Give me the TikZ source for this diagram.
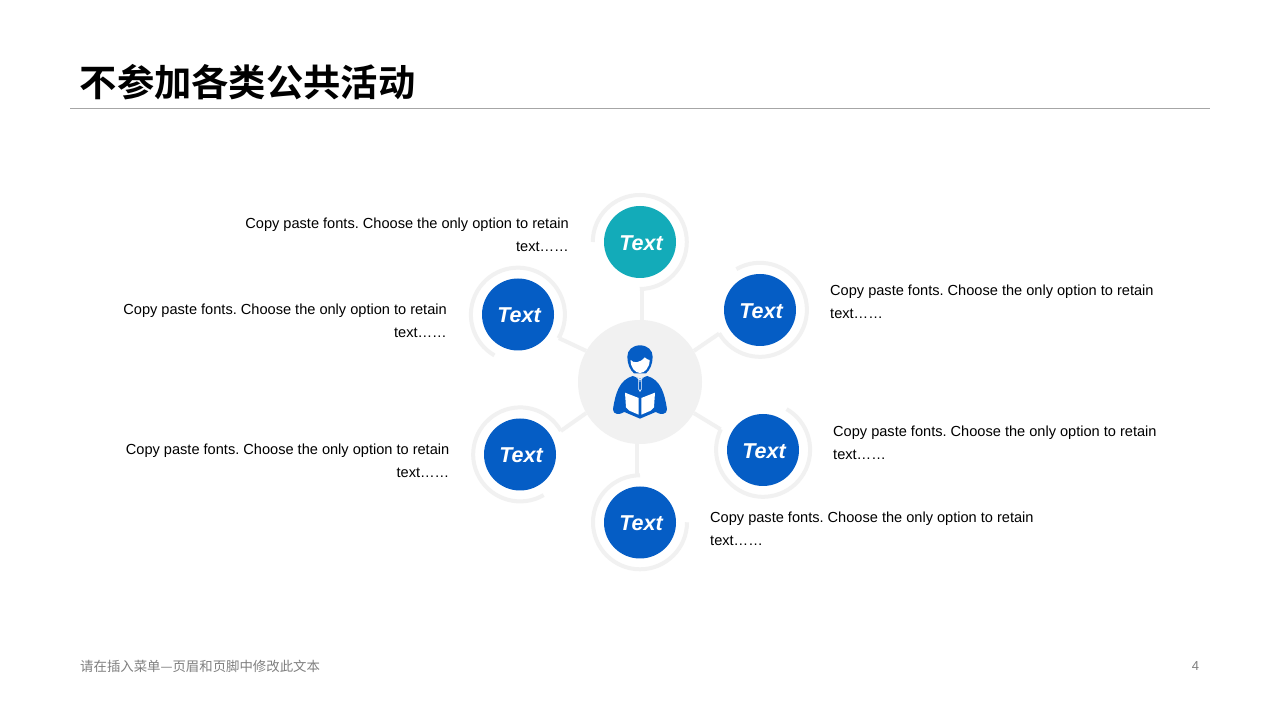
\documentclass[tikz,border=0pt]{standalone}
\usepackage{fontspec}
\setmainfont{Liberation Sans}
\newfontfamily\cjk{Noto Sans CJK SC}
\newfontfamily\cjkbold{Noto Sans CJK SC Bold}
\usetikzlibrary{positioning}
\definecolor{bluefill}{HTML}{055DC5}
\definecolor{tealfill}{HTML}{13ABB9}
\definecolor{ringgray}{HTML}{F1F1F1}
\definecolor{rulegray}{HTML}{A6A6A6}
\definecolor{footgray}{HTML}{7F7F7F}
\frenchspacing

\begin{document}
\begin{tikzpicture}[
          x=1pt, y=1pt,
          ball/.style={circle, minimum size=72pt, inner sep=0pt},
          balltext/.style={inner sep=0pt, text=white,
            font=\fontsize{21.5}{24}\selectfont\bfseries\itshape},
          halo/.style={circle, minimum size=94pt, inner sep=0pt},
          ring/.style={draw=ringgray, line width=4pt},
          link/.style={draw=ringgray, line width=4pt},
          note/.style={inner sep=0pt, font=\fontsize{14.58}{22.7}\selectfont}
        ]
        \useasboundingbox (0,0) rectangle (1280,720);
        \fill[white] (0,0) rectangle (1280,720);

        % title and footer
        \node[anchor=west, inner sep=0pt, font=\cjkbold\fontsize{37.3}{40}\selectfont] (title) at (79.5,638) {不参加各类公共活动};
        \coordinate (ruleleft) at (70,612);
        \coordinate (ruleright) at (1210,612);
        \draw[rulegray, line width=0.8pt] (ruleleft) -- (ruleright);
        \node[anchor=west, inner sep=0pt, text=footgray, font=\cjk\fontsize{13.4}{15}\selectfont] (footer) at (80,54) {请在插入菜单—页眉和页脚中修改此文本};
        \node[inner sep=0pt, text=footgray, font=\fontsize{13}{14}\selectfont] (pageno) at (1195.5,54) {4};

        % hub
        \node[circle, fill=ringgray, minimum size=124pt, inner sep=0pt] (hub) at (640,338) {};

        % balls and their rings
        \foreach \name/\x/\y/\col/\from/\to in {
            top/640/478/tealfill/180/-90,
            upleft/518/405.5/bluefill/240/-30,
            upright/760/410/bluefill/120/-150,
            lowleft/520/265.5/bluefill/30/300,
            lowright/763/270/bluefill/60/-206,
            bottom/640/197.5/bluefill/90/360}{
          \node[ball, fill=\col] (\name) at (\x,\y) {};
          \node[balltext] (label\name) at (\x+1,\y-1) {Text};
          \node[halo] (halo\name) at (\x,\y) {};
          \draw[ring] (halo\name.\from) arc[start angle=\from, end angle=\to, radius=47pt];
        }

        % connectors
        \draw[link] ([xshift=2pt]halotop.-90) -- ([xshift=2pt]hub.90);
        \draw[link] (haloupleft.-30) -- (hub.150);
        \draw[link] (haloupright.-150) -- (hub.30);
        \draw[link] (halolowleft.30) -- (hub.-150);
        \draw[link] (halolowright.154) -- (hub.-30);
        \draw[link] ([xshift=-3pt]hub.-90) -- ([xshift=-3pt]halobottom.90);

        % notes
        \node[note, anchor=east, align=right] (notetop) at (569,485) {Copy paste fonts. Choose the only option to retain\\text\dots\dots};
        \node[note, anchor=east, align=right] (noteupleft) at (447,399) {Copy paste fonts. Choose the only option to retain\\text\dots\dots};
        \node[note, anchor=east, align=right] (notelowleft) at (449.5,259) {Copy paste fonts. Choose the only option to retain\\text\dots\dots};
        \node[note, anchor=west, align=left] (noteupright) at (830,418) {Copy paste fonts. Choose the only option to retain\\text\dots\dots};
        \node[note, anchor=west, align=left] (notelowright) at (833,277.5) {Copy paste fonts. Choose the only option to retain\\text\dots\dots};
        \node[note, anchor=west, align=left] (notebottom) at (710,191.5) {Copy paste fonts. Choose the only option to retain\\text\dots\dots};

        % reader icon
        \begin{scope}[shift={(590,390)}, x=0.3333pt, y=-0.3333pt]
          \fill[bluefill] (150,46) .. controls (128,46) and (112,60) .. (112,80)
            .. controls (112,102) and (120,120) .. (132,130)
            -- (168,130) .. controls (180,120) and (188,102) .. (188,80)
            .. controls (188,60) and (172,46) .. (150,46) -- cycle;
          \fill[white] (122,90) .. controls (130,100) and (150,100) .. (164,82)
            .. controls (170,88) and (176,90) .. (179,90)
            .. controls (179,112) and (165,129) .. (150,129)
            .. controls (135,129) and (121,112) .. (122,90) -- cycle;
          \fill[bluefill] (128,138) -- (150,146) -- (172,138)
            .. controls (212,150) and (224,190) .. (231,238)
            .. controls (231,254) and (212,256) .. (197,246)
            -- (150,266) -- (103,246)
            .. controls (88,256) and (69,254) .. (69,238)
            .. controls (76,190) and (88,150) .. (128,138) -- cycle;
          \fill[white] (138,141) -- (145,148) -- (145,178) -- (150,186) -- (155,178) -- (155,148) -- (162,141) -- (150,147) -- cycle;
          \fill[white] (105,188) -- (146,204) -- (146,254) -- (118,242) -- (108,232) -- cycle;
          \fill[white] (195,188) -- (154,204) -- (154,254) -- (182,242) -- (192,232) -- cycle;
          \fill[bluefill] (148,150) -- (152,150) -- (153,176) -- (150,182) -- (147,176) -- cycle;
        \end{scope}
\end{tikzpicture}
\end{document}
